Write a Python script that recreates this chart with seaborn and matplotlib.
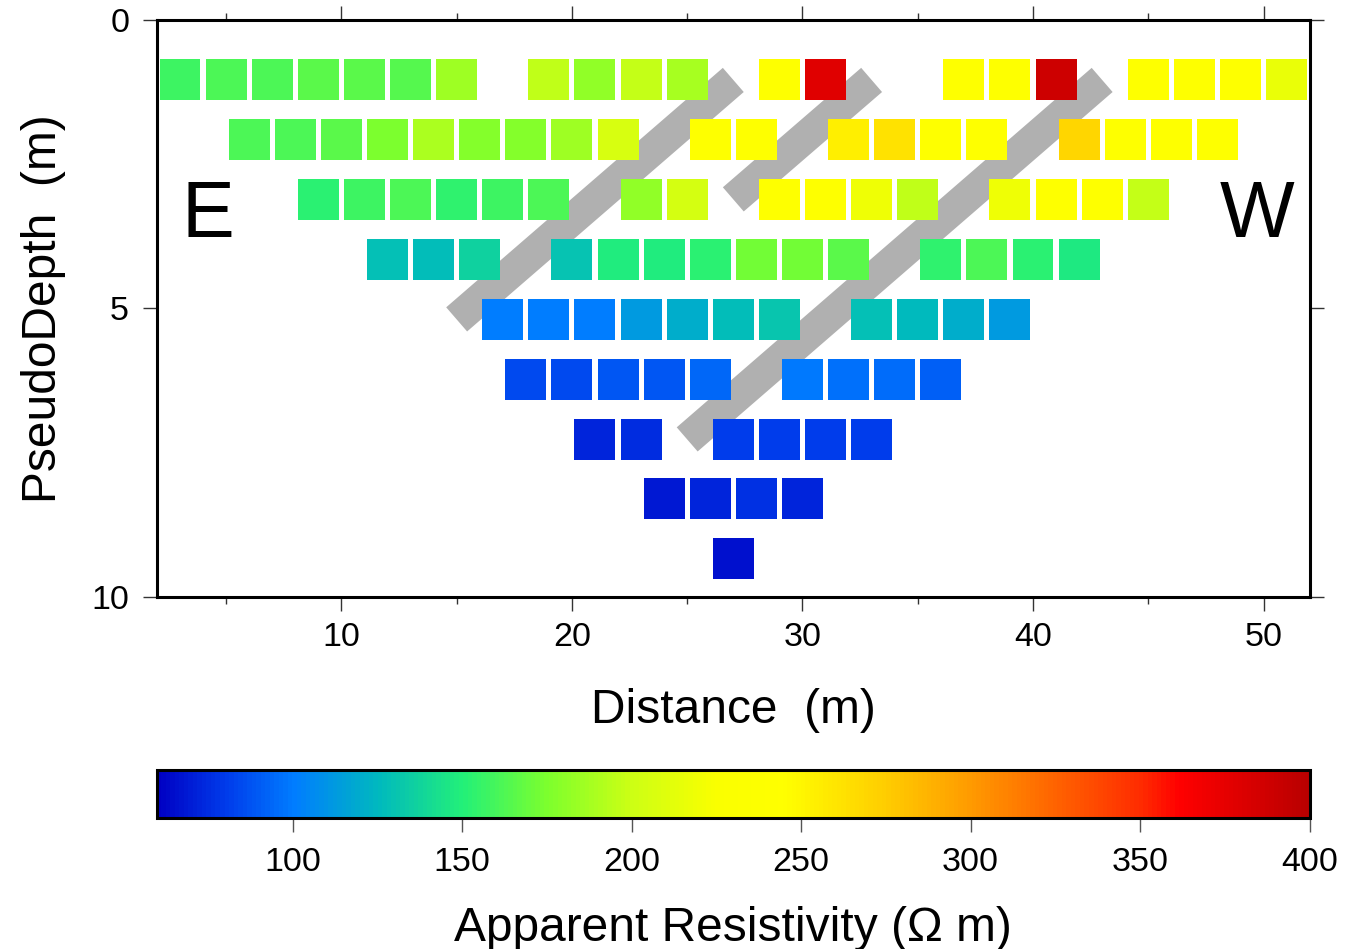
import numpy as np
import pandas as pd
import matplotlib
matplotlib.use("Agg")
import matplotlib.pyplot as plt
import seaborn as sns
from matplotlib.colors import LinearSegmentedColormap, Normalize
from matplotlib.cm import ScalarMappable
from matplotlib.ticker import MultipleLocator, FixedLocator

nan = np.nan

# ---------------- data ----------------
# Wenner array, 2 m electrode spacing (electrodes 0..54 m)
levels = [1, 2, 3, 4, 5, 6, 7, 8, 9]
pseudo_depth = [1.04, 2.08, 3.11, 4.15, 5.19, 6.23, 7.27, 8.30, 9.34]
first_x = [3, 6, 9, 12, 15, 18, 21, 24, 27]
last_x = [51, 48, 45, 42, 39, 36, 33, 30, 27]

rho_n1 = [157, 161, 162, 166, 165, 164, 186, nan, 196, 182, 198, 188, nan,
          240, 378, nan, nan, 240, 240, 389, nan, 240, 240, 240, 216]
rho_n2 = [161, 161, 165, 175, 189, 177, 177, 186, 206, nan, 240, 240, nan,
          255, 263, 242, 242, nan, 269, 242, 242, 242]
rho_n3 = [152, 158, 162, 154, 158, 162, nan, 182, 204, nan, 240, 240, 219,
          196, nan, 219, 240, 240, 198]
rho_n4 = [129, 127, 136, nan, 130, 148, 148, 152, 172, 172, 166, nan, 153,
          161, 152, 147]
rho_n5 = [nan, 101, 100, 100, 112, 120, 127, 131, nan, 128, 126, 120, 113]
rho_n6 = [84, 84, 88, 89, 94, nan, 99, 97, 95, 91]
rho_n7 = [73, 75, nan, 81, 81, 80, 80]
rho_n8 = [69, 73, 76, 73]
rho_n9 = [66]
rho_rows = [rho_n1, rho_n2, rho_n3, rho_n4, rho_n5, rho_n6, rho_n7, rho_n8, rho_n9]

# removed data (bad electrode) lines: start (x, level) -> end (x, level)
bad_x_start = [27, 33, 43]
bad_n_start = [1, 1, 1]
bad_x_end = [15, 27, 25]
bad_n_end = [5, 3, 7]

cbar_ticks = [100, 150, 200, 250, 300, 350, 400]
rho_min, rho_max = 60, 400

# colour table (value, rgb)
cpt_values = [60, 80, 100, 125, 150, 175, 200, 225, 245, 275, 300, 325, 350, 362, 400]
cpt_colors = [(0, 0, 195), (0, 60, 235), (0, 125, 255), (0, 185, 190), (35, 240, 120),
              (125, 255, 45), (205, 255, 20), (250, 255, 0), (255, 255, 0), (255, 205, 0),
              (255, 155, 0), (255, 100, 0), (255, 45, 0), (255, 0, 0), (185, 0, 0)]

# ---------------- build table ----------------
rows = []
for n, d, x0, x1, vals in zip(levels, pseudo_depth, first_x, last_x, rho_rows):
    xs = np.arange(x0, x1 + 1, 2)
    for x, v in zip(xs, vals):
        if not np.isnan(v):
            rows.append({"x": x, "depth": d, "rho": v})
df = pd.DataFrame(rows)
depth_of = dict(zip(levels, pseudo_depth))

cmap = LinearSegmentedColormap.from_list(
    "resist",
    [((v - rho_min) / (rho_max - rho_min), tuple(c / 255 for c in col))
     for v, col in zip(cpt_values, cpt_colors)])
norm = Normalize(rho_min, rho_max)

# ---------------- figure ----------------
sns.set_style("ticks")
plt.rcParams["font.family"] = ["Liberation Sans", "DejaVu Sans"]
plt.rcParams.update({"text.color": "black", "axes.labelcolor": "black",
                     "xtick.color": "black", "ytick.color": "black",
                     "axes.edgecolor": "black"})

fig = plt.figure(figsize=(13.45, 9.49), dpi=100)
ax = fig.add_axes([0.1167, 0.371, 0.857, 0.608])

for xs_, ns_, xe_, ne_ in zip(bad_x_start, bad_n_start, bad_x_end, bad_n_end):
    ax.plot([xs_, xe_], [depth_of[ns_], depth_of[ne_]], color="#b0b0b0",
            lw=23, solid_capstyle="butt", zorder=1)

sns.scatterplot(data=df, x="x", y="depth", hue="rho", palette=cmap, hue_norm=norm,
                marker="s", s=870, linewidth=0, legend=False, ax=ax, zorder=3)

ax.set_xlim(2, 52)
ax.set_ylim(10, 0)
ax.xaxis.set_major_locator(MultipleLocator(10))
ax.xaxis.set_minor_locator(MultipleLocator(5))
ax.yaxis.set_major_locator(FixedLocator([0, 5, 10]))
ax.tick_params(which="both", direction="out", top=True, right=True,
               labeltop=False, labelright=False, width=1.0, color="#333333",
               labelcolor="black")
ax.tick_params(which="major", length=10, labelsize=24.5)
ax.tick_params(which="minor", length=5)
ax.tick_params(axis="x", pad=8)
ax.tick_params(axis="y", pad=10)
for sp in ax.spines.values():
    sp.set_visible(True)
    sp.set_linewidth(2.2)
    sp.set_color("black")

ax.set_xlabel("Distance  (m)", fontsize=34.5, labelpad=25, color="black")
ax.set_ylabel("PseudoDepth  (m)", fontsize=34.5, labelpad=18, color="black")

ax.text(4.2, 3.4, "E", fontsize=57, ha="center", va="center", color="black")
ax.text(49.7, 3.4, "W", fontsize=57, ha="center", va="center", color="black")

# colour bar
cax = fig.add_axes([0.1167, 0.138, 0.857, 0.0506])
sm = ScalarMappable(norm=norm, cmap=cmap)
cb = fig.colorbar(sm, cax=cax, orientation="horizontal", ticks=cbar_ticks)
cb.outline.set_linewidth(2.2)
cb.outline.set_edgecolor("black")
cax.tick_params(length=10, width=1.0, color="#555555", labelsize=24.5, pad=11,
                labelcolor="black")
cb.set_label("Apparent Resistivity (\u03a9 m)", fontsize=34.5, labelpad=20,
             color="black")

fig.savefig("out.png", dpi=100)
